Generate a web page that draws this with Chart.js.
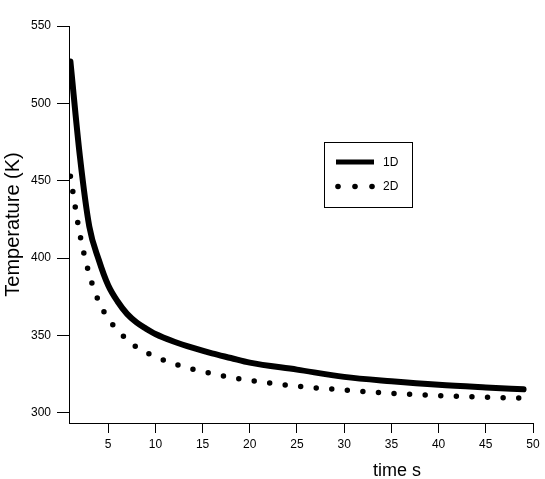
<!DOCTYPE html>
<html>
<head>
<meta charset="utf-8">
<script src="https://cdn.jsdelivr.net/npm/chart.js@4.4.1/dist/chart.umd.min.js"></script>
<style>
  html, body { margin: 0; padding: 0; background: #fff; }
  #c { display: block; }
</style>
</head>
<body>
<canvas id="c" width="545" height="479"></canvas>
<script>
// ---- data ----
const times   = [1, 2, 3, 4, 5, 6, 7, 8, 9, 10, 12, 14, 16, 18, 20, 25, 30, 35, 40, 45, 49];
const temp1D  = [527, 466, 420.5, 399, 382.5, 372, 364, 358.5, 354.5, 351, 346, 342, 338.5, 335.5, 332.5, 328, 323.3, 320.5, 318.2, 316.5, 315.3];
const temp2D  = [453, 415.5, 389.5, 372, 361, 353.5, 347.3, 342.5, 339.2, 336.3, 331.7, 328.2, 325.5, 323, 321, 317.3, 314.8, 312.7, 311.2, 310.1, 309.5];
const seriesLabels = ['1D', '2D'];
const xTickValues = [5, 10, 15, 20, 25, 30, 35, 40, 45, 50];
const yTickValues = [300, 350, 400, 450, 500, 550];
const xTitle = 'time s';
const yTitle = 'Temperature (K)';

const FONT = '"Liberation Sans", Arial, Helvetica, sans-serif';

const pts = (ys) => times.map((t, i) => ({ x: t, y: ys[i] }));

// legend drawn inside the plot area, using the datasets' own styles
const boxLegend = {
  id: 'boxLegend',
  afterDraw(chart) {
    const ctx = chart.ctx;
    const ds = chart.data.datasets;
    ctx.save();
    ctx.strokeStyle = '#000';
    ctx.lineWidth = 1;
    ctx.strokeRect(324.5, 142.5, 88, 65);
    // 1D sample
    ctx.beginPath();
    ctx.lineWidth = 5;
    ctx.lineCap = 'butt';
    ctx.strokeStyle = ds[0].borderColor;
    ctx.moveTo(336, 162);
    ctx.lineTo(374, 162);
    ctx.stroke();
    // 2D sample (dots)
    ctx.fillStyle = ds[1].borderColor;
    [338, 355, 372].forEach(x => {
      ctx.beginPath();
      ctx.arc(x, 186.5, 2.8, 0, Math.PI * 2);
      ctx.fill();
    });
    ctx.fillStyle = '#000';
    ctx.font = '12px ' + FONT;
    ctx.textAlign = 'left';
    ctx.textBaseline = 'middle';
    ctx.fillText(ds[0].label, 383, 162.5);
    ctx.fillText(ds[1].label, 383, 187);
    // x axis title
    ctx.font = '18px ' + FONT;
    ctx.textAlign = 'center';
    ctx.textBaseline = 'alphabetic';
    ctx.fillText(xTitle, 397, 476);
    ctx.restore();
  }
};

new Chart(document.getElementById('c'), {
  type: 'line',
  data: {
    datasets: [
      {
        label: seriesLabels[0],
        data: pts(temp1D),
        borderColor: '#000',
        borderWidth: 6,
        borderCapStyle: 'round',
        pointRadius: 0,
        fill: false,
        cubicInterpolationMode: 'monotone'
      },
      {
        label: seriesLabels[1],
        data: pts(temp2D),
        borderColor: '#000',
        borderWidth: 5.5,
        borderDash: [0, 15.6],
        borderCapStyle: 'round',
        pointRadius: 0,
        fill: false,
        cubicInterpolationMode: 'monotone'
      }
    ]
  },
  options: {
    responsive: false,
    animation: false,
    devicePixelRatio: 1,
    layout: { padding: { top: 26, right: 12, left: 0, bottom: 0 } },
    plugins: { legend: { display: false }, tooltip: { enabled: false } },
    scales: {
      x: {
        type: 'linear',
        min: 0.85,
        max: 50,
        afterBuildTicks(scale) { scale.ticks = xTickValues.map(v => ({ value: v })); },
        afterFit(scale) { scale.height = 56; },
        grid: { display: true, drawOnChartArea: false, drawTicks: true, tickLength: 10, color: '#000', lineWidth: 1 },
        border: { display: true, color: '#000', width: 1 },
        ticks: { color: '#000', font: { family: FONT, size: 12 }, padding: 4, maxRotation: 0, autoSkip: false }
      },
      y: {
        type: 'linear',
        min: 293.5,
        max: 550,
        afterBuildTicks(scale) { scale.ticks = yTickValues.map(v => ({ value: v })); },
        afterFit(scale) { scale.width = 69; },
        grid: { display: true, drawOnChartArea: false, drawTicks: true, tickLength: 12, color: '#000', lineWidth: 1 },
        border: { display: true, color: '#000', width: 1 },
        ticks: { color: '#000', font: { family: FONT, size: 12 }, padding: 6, autoSkip: false },
        title: { display: true, text: yTitle, color: '#000', font: { family: FONT, size: 20 }, padding: { top: 1, bottom: 0 } }
      }
    }
  },
  plugins: [boxLegend]
});
</script>
</body>
</html>
